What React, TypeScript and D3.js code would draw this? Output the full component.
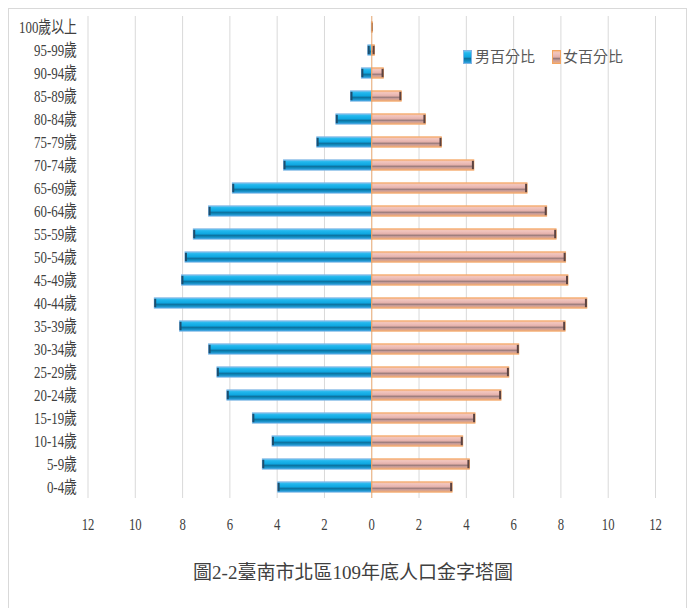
import React from 'react';
import * as d3 from 'd3';

// age groups from youngest to oldest
const ageGroups = [
  '0-4歲', '5-9歲', '10-14歲', '15-19歲', '20-24歲', '25-29歲', '30-34歲',
  '35-39歲', '40-44歲', '45-49歲', '50-54歲', '55-59歲', '60-64歲', '65-69歲',
  '70-74歲', '75-79歲', '80-84歲', '85-89歲', '90-94歲', '95-99歲', '100歲以上',
];
const malePct = [
  3.98, 4.63, 4.22, 5.05, 6.13, 6.55, 6.9, 8.13, 9.2, 8.05, 7.9,
  7.55, 6.9, 5.9, 3.73, 2.33, 1.52, 0.9, 0.44, 0.17, 0.02,
];
const femalePct = [
  3.4, 4.13, 3.85, 4.37, 5.47, 5.8, 6.22, 8.18, 9.1, 8.3, 8.2,
  7.8, 7.4, 6.57, 4.32, 2.95, 2.27, 1.25, 0.5, 0.12, 0.03,
];
const tickValues = [-12, -10, -8, -6, -4, -2, 0, 2, 4, 6, 8, 10, 12];
const seriesNames = ['男百分比', '女百分比'];
const title = '圖2-2臺南市北區109年底人口金字塔圖';

const W = 692;
const H = 608;
const serif = '"Liberation Serif", "DejaVu Serif", "Noto Sans CJK TC", serif';
const sans = '"Noto Sans CJK TC", "Noto Sans", sans-serif';

const App: React.FC = () => {
  const x = d3.scaleLinear().domain([-12, 12]).range([88, 655.5]);
  const y = d3.scaleBand<string>()
    .domain([...ageGroups].reverse())
    .range([15.5, 498.5])
    .paddingInner(0.55)
    .paddingOuter(0.275);
  const bw = y.bandwidth();
  const x0 = x(0);

  return (
    <svg width={W} height={H} style={{ position: 'absolute', left: 0, top: 0 }}>
      <defs>
        <linearGradient id="blueG" x1="0" y1="0" x2="0" y2="1">
          <stop offset="0%" stopColor="#7fc6f0" />
          <stop offset="18%" stopColor="#22b8ee" />
          <stop offset="50%" stopColor="#0ea6e0" />
          <stop offset="62%" stopColor="#0d6f9c" />
          <stop offset="75%" stopColor="#0d86b8" />
          <stop offset="100%" stopColor="#3aa8e8" />
        </linearGradient>
        <linearGradient id="pinkG" x1="0" y1="0" x2="0" y2="1">
          <stop offset="0%" stopColor="#f6b27a" />
          <stop offset="18%" stopColor="#f2c6c0" />
          <stop offset="50%" stopColor="#e4b0aa" />
          <stop offset="62%" stopColor="#957878" />
          <stop offset="75%" stopColor="#c99c98" />
          <stop offset="100%" stopColor="#f4b07a" />
        </linearGradient>
      </defs>
      <rect x={0} y={0} width={W} height={H} fill="#fff" />
      <rect x={8.5} y={8.5} width={678} height={640} fill="none" stroke="#d9d9d9" />

      {/* gridlines */}
      {tickValues.map(t => (
        <line key={`g${t}`} x1={x(t)} x2={x(t)} y1={16} y2={498} stroke="#d9d9d9" strokeWidth={1} />
      ))}

      {/* male bars */}
      {ageGroups.map((g, i) => {
        const yy = y(g)!;
        const xl = x(-malePct[i]);
        return (
          <g key={`m${g}`}>
            <rect x={xl} y={yy} width={x0 - xl} height={bw} fill="url(#blueG)" stroke="#7fb4e4" strokeWidth={0.8} />
            <rect x={xl} y={yy + 1} width={Math.min(2, x0 - xl)} height={bw - 2} fill="#1d4e6e" />
          </g>
        );
      })}

      {/* female bars */}
      {ageGroups.map((g, i) => {
        const yy = y(g)!;
        const xr = x(femalePct[i]);
        return (
          <g key={`f${g}`}>
            <rect x={x0} y={yy} width={xr - x0} height={bw} fill="url(#pinkG)" stroke="#f4a460" strokeWidth={0.8} />
            <rect x={xr - Math.min(2, xr - x0)} y={yy + 1} width={Math.min(2, xr - x0)} height={bw - 2} fill="#5c4340" />
          </g>
        );
      })}
      <line x1={x0} x2={x0} y1={16} y2={498} stroke="#f4a460" strokeWidth={1} opacity={0.8} />

      {/* category labels (condensed like the original) */}
      {ageGroups.map(g => (
        <text key={`l${g}`} transform={`translate(77,${y(g)! + bw / 2 + 5.5}) scale(0.86,1.12)`}
          textAnchor="end" fontFamily={serif} fontSize={15} fill="#404040">{g}</text>
      ))}

      {/* x tick labels */}
      {tickValues.map(t => (
        <text key={`t${t}`} transform={`translate(${x(t)},530) scale(0.85,1.15)`} textAnchor="middle"
          fontFamily={serif} fontSize={15} fill="#404040">{Math.abs(t)}</text>
      ))}

      {/* legend */}
      <rect x={463.5} y={50.5} width={8} height={13} fill="url(#blueG)" stroke="#7fb4e4" />
      <text x={475} y={62} fontFamily={sans} fontSize={15} fill="#595959">{seriesNames[0]}</text>
      <rect x={552.5} y={50.5} width={8} height={13} fill="url(#pinkG)" stroke="#f4a460" />
      <text x={563} y={62} fontFamily={sans} fontSize={15} fill="#595959">{seriesNames[1]}</text>

      {/* title */}
      <text x={353} y={579} textAnchor="middle" fontFamily={serif} fontSize={19} fill="#404040">{title}</text>
    </svg>
  );
};

export default App;
